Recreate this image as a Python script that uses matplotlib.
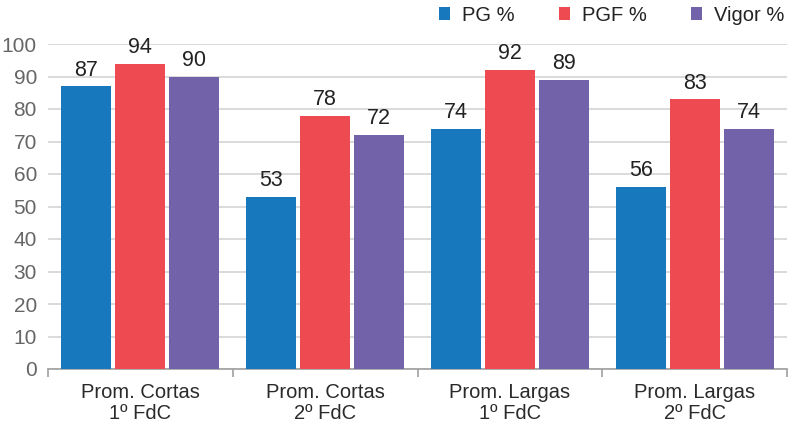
import numpy as np
import matplotlib.pyplot as plt

# data
categories = ['Prom. Cortas\n1º FdC', 'Prom. Cortas\n2º FdC', 'Prom. Largas\n1º FdC', 'Prom. Largas\n2º FdC']
pg = [87, 53, 74, 56]
pgf = [94, 78, 92, 83]
vigor = [90, 72, 89, 74]
series_names = ['PG %', 'PGF %', 'Vigor %']
colors = ['#1878be', '#ee4a52', '#7262aa']

plt.rcParams['font.family'] = ['Liberation Sans', 'DejaVu Sans']

fig = plt.figure(figsize=(7.88, 4.26), dpi=100)
ax = fig.add_axes([48 / 788, 1 - 369 / 426, 739 / 788, (369 - 44) / 426])

x = np.arange(len(categories))
width = 0.27
step = 0.292
for i, (vals, name) in enumerate(zip([pg, pgf, vigor], series_names)):
    bars = ax.bar(x + (i - 1) * step, vals, width, color=colors[i], label=name, zorder=3)
    for b, v in zip(bars, vals):
        ax.annotate(str(v), (b.get_x() + b.get_width() / 2, v), xytext=(0, 4),
                    textcoords='offset points', ha='center', va='bottom',
                    fontsize=15.5, color='#222222')

ax.set_xlim(-0.5, len(categories) - 0.5)
ax.set_ylim(0, 100)
ax.set_yticks(range(0, 101, 10))
ax.yaxis.grid(True, color='#d4d4d4', linewidth=1.2, zorder=0)
ax.set_axisbelow(True)

ax.set_xticks(x)
ax.set_xticklabels(categories, fontsize=14.5, color='#2a2a2a', linespacing=1.15)
ax.set_xticks(np.arange(-0.5, len(categories)), minor=True)
ax.tick_params(axis='x', which='major', length=0, pad=10)
ax.tick_params(axis='x', which='minor', length=6, color='#a0a0a0', width=1.2)
ax.tick_params(axis='y', length=0, pad=8, labelsize=15, labelcolor='#666666')

for s in ['top', 'right', 'left']:
    ax.spines[s].set_visible(False)
ax.spines['bottom'].set_color('#a0a0a0')
ax.spines['bottom'].set_linewidth(1.2)

ax.legend(loc='lower right', bbox_to_anchor=(1.008, 1.035), ncol=3, frameon=False,
          fontsize=14.5, handlelength=0.55, handleheight=0.55, handletextpad=0.6,
          columnspacing=2.2, borderaxespad=0, labelcolor='#222222')

fig.savefig('out.png', dpi=100)
